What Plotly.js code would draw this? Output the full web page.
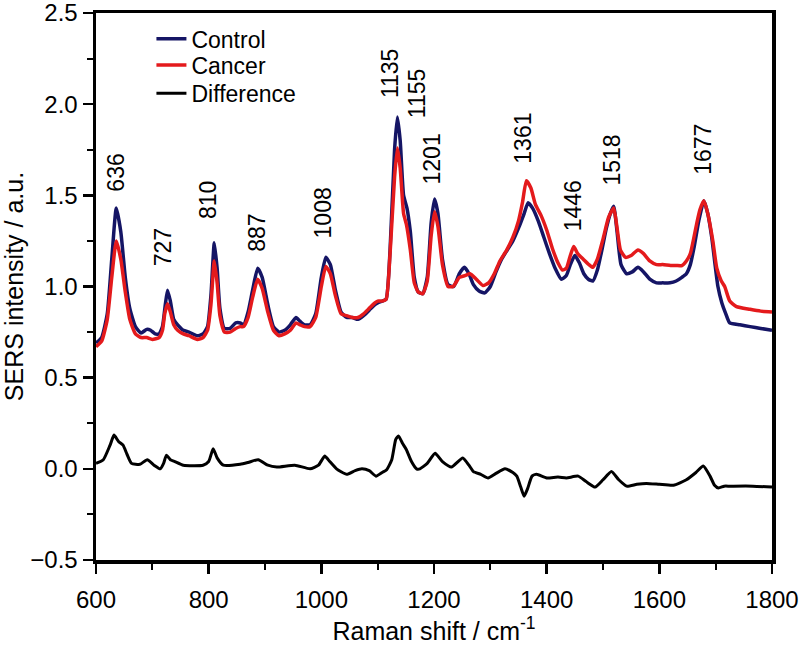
<!DOCTYPE html>
<html>
<head>
<meta charset="utf-8">
<script src="https://cdn.plot.ly/plotly-3.0.1.min.js"></script>
<style>html,body{margin:0;padding:0;background:#fff;}#chart{width:801px;height:648px;}</style>
</head>
<body>
<div id="chart"></div>
<script>
// Control spectrum
const controlX = [600,610,620,628,636,644,652,660,670,680,690,697,705,712,718,723,727,732,738,745,755,765,780,790,798,804,810,815,820,828,838,848,856,862,870,878,887,895,905,915,925,935,945,955,962,970,980,990,1000,1008,1016,1025,1035,1045,1055,1065,1075,1085,1095,1100,1108,1115,1122,1130,1135,1140,1146,1152,1158,1165,1172,1180,1188,1195,1201,1207,1215,1225,1235,1245,1254,1262,1270,1280,1290,1300,1310,1320,1330,1340,1350,1360,1367,1375,1385,1395,1405,1415,1426,1435,1442,1450,1458,1466,1474,1482,1490,1498,1506,1513,1519,1525,1532,1542,1552,1562,1572,1583,1595,1606,1619,1630,1640,1648,1655,1662,1670,1679,1686,1693,1704,1711,1718,1725,1743,1761,1780,1800];
const controlY = [0.69,0.72,0.85,1.15,1.43,1.30,1.05,0.88,0.78,0.745,0.765,0.76,0.74,0.74,0.78,0.90,0.98,0.92,0.82,0.79,0.76,0.75,0.73,0.74,0.78,0.95,1.24,1.10,0.88,0.77,0.77,0.80,0.80,0.79,0.86,0.98,1.10,1.05,0.90,0.78,0.75,0.76,0.79,0.83,0.81,0.79,0.79,0.85,1.05,1.16,1.12,0.98,0.86,0.83,0.83,0.82,0.84,0.87,0.90,0.91,0.92,0.93,1.20,1.75,1.93,1.80,1.50,1.43,1.30,1.05,0.97,0.96,1.05,1.35,1.48,1.40,1.15,1.01,1.00,1.07,1.105,1.07,1.01,0.975,0.965,1.00,1.08,1.15,1.20,1.25,1.32,1.40,1.46,1.43,1.36,1.27,1.18,1.10,1.04,1.06,1.12,1.17,1.13,1.07,1.04,1.03,1.09,1.20,1.32,1.40,1.44,1.30,1.12,1.07,1.08,1.105,1.08,1.04,1.02,1.02,1.02,1.03,1.05,1.07,1.12,1.22,1.36,1.47,1.40,1.27,1.00,0.91,0.85,0.80,0.79,0.78,0.77,0.76];

// Cancer spectrum
const cancerX = [600,610,620,628,636,644,652,660,670,680,690,700,712,718,722,727,732,738,745,755,765,780,790,798,804,810,815,820,828,838,848,856,862,870,878,887,895,905,915,925,935,945,955,962,970,980,990,1000,1008,1016,1025,1035,1045,1055,1065,1075,1085,1095,1100,1108,1115,1122,1130,1135,1140,1146,1151,1158,1165,1172,1180,1188,1195,1201,1207,1215,1225,1234,1245,1255,1264,1275,1287,1297,1307,1317,1329,1340,1350,1357,1364,1372,1380,1390,1400,1410,1420,1428,1435,1442,1448,1455,1465,1475,1482,1490,1500,1510,1519,1525,1531,1540,1550,1562,1572,1583,1595,1606,1620,1630,1640,1648,1655,1666,1672,1679,1686,1695,1702,1710,1716,1725,1737,1761,1780,1800];
const cancerY = [0.67,0.70,0.82,1.05,1.25,1.15,0.97,0.82,0.74,0.72,0.72,0.71,0.72,0.76,0.85,0.905,0.86,0.79,0.76,0.74,0.73,0.71,0.72,0.76,0.90,1.14,1.02,0.84,0.75,0.75,0.77,0.78,0.78,0.83,0.94,1.04,0.99,0.86,0.76,0.73,0.74,0.76,0.80,0.79,0.78,0.78,0.83,1.00,1.11,1.07,0.95,0.85,0.84,0.83,0.83,0.85,0.88,0.91,0.92,0.92,0.93,1.18,1.60,1.76,1.65,1.40,1.34,1.20,1.02,0.97,0.96,1.03,1.28,1.41,1.33,1.12,1.00,1.00,1.05,1.06,1.07,1.04,1.005,1.02,1.07,1.14,1.20,1.27,1.36,1.46,1.58,1.54,1.45,1.39,1.31,1.21,1.13,1.09,1.10,1.17,1.22,1.18,1.15,1.12,1.105,1.15,1.26,1.38,1.43,1.32,1.20,1.16,1.17,1.20,1.18,1.14,1.12,1.12,1.115,1.115,1.115,1.14,1.18,1.34,1.42,1.47,1.40,1.25,1.10,1.03,1.00,0.92,0.89,0.875,0.865,0.86];

// Difference spectrum
const diffX = [600,613,625,632,640,648,655,663,678,691,703,714,720,725,732,740,755,790,800,808,815,826,856,870,888,905,921,953,980,995,1006,1015,1027,1045,1060,1072,1085,1097,1108,1116,1125,1132,1137,1144,1151,1160,1169,1175,1188,1202,1215,1231,1251,1262,1270,1283,1296,1310,1326,1340,1347,1354,1360,1366,1374,1382,1400,1420,1435,1456,1470,1486,1500,1515,1528,1542,1560,1577,1600,1625,1648,1665,1678,1690,1698,1705,1715,1725,1766,1800];
const diffY = [0.03,0.05,0.13,0.185,0.15,0.13,0.08,0.03,0.025,0.05,0.02,0.0,0.03,0.075,0.05,0.04,0.02,0.02,0.04,0.11,0.06,0.02,0.025,0.035,0.05,0.02,0.01,0.02,0.0,0.02,0.07,0.04,0.0,-0.03,-0.01,0.0,-0.01,-0.04,-0.02,-0.005,0.05,0.16,0.18,0.14,0.105,0.04,0.0,0.0,0.03,0.085,0.04,0.01,0.06,0.02,-0.015,-0.03,-0.05,-0.025,0.0,-0.02,-0.04,-0.10,-0.15,-0.11,-0.04,-0.03,-0.05,-0.045,-0.05,-0.04,-0.07,-0.10,-0.06,-0.015,-0.06,-0.095,-0.085,-0.08,-0.085,-0.09,-0.06,-0.02,0.015,-0.04,-0.09,-0.105,-0.095,-0.095,-0.095,-0.10];

// Peak labels and where their text sits
const peakLabels = ['636','727','810','887','1008','1135','1155','1201','1361','1446','1518','1677'];
const peakLabelX = [634,719,799,886,1003,1122,1170,1196,1358,1447,1516,1676];
const peakLabelY = [1.51,1.10,1.36,1.18,1.25,2.02,1.91,1.55,1.66,1.29,1.54,1.60];

const xTickVals = [600,800,1000,1200,1400,1600,1800];
const yTickVals = [-0.5,0.0,0.5,1.0,1.5,2.0,2.5];

const FONT = 'Liberation Sans, Arial, sans-serif';

const traces = [
  {x: controlX, y: controlY, name: 'Control', type: 'scatter', mode: 'lines', legend: 'legend',
   line: {color: '#151565', width: 3.5, shape: 'spline', smoothing: 0.5}},
  {x: cancerX, y: cancerY, name: 'Cancer', type: 'scatter', mode: 'lines', legend: 'legend2',
   line: {color: '#e41a1c', width: 3.5, shape: 'spline', smoothing: 0.5}},
  {x: diffX, y: diffY, name: 'Difference', type: 'scatter', mode: 'lines', legend: 'legend3',
   line: {color: '#000000', width: 3, shape: 'spline', smoothing: 0.5}}
];

const annotations = peakLabels.map((t, i) => ({
  x: peakLabelX[i], y: peakLabelY[i], xref: 'x', yref: 'y',
  text: t, showarrow: false, textangle: -90,
  xanchor: 'center', yanchor: 'bottom',
  font: {family: FONT, size: 23, color: '#000'}
}));

const legendBase = {x: 0.082, xanchor: 'left', yanchor: 'middle', bgcolor: 'rgba(0,0,0,0)',
  font: {family: FONT, size: 23, color: '#000'}};

const layout = {
  width: 801, height: 648,
  margin: {l: 96, r: 29, t: 13, b: 88},
  paper_bgcolor: '#fff', plot_bgcolor: '#fff',
  showlegend: true,
  legend: Object.assign({}, legendBase, {y: 0.953}),
  legend2: Object.assign({}, legendBase, {y: 0.905}),
  legend3: Object.assign({}, legendBase, {y: 0.853}),
  xaxis: {
    range: [600, 1800], tickvals: xTickVals, ticks: 'outside', ticklen: 10, tickwidth: 2.5,
    tickcolor: '#000', showline: true, linewidth: 3.5, linecolor: '#000', mirror: true,
    showgrid: false, zeroline: false, ticklabeloverflow: 'allow', ticklabelstandoff: 6,
    minor: {dtick: 100, tick0: 600, ticks: 'outside', ticklen: 6, tickwidth: 2, tickcolor: '#000', showgrid: false},
    tickfont: {family: FONT, size: 24, color: '#000'},
    title: {text: 'Raman shift / cm<sup>-1</sup>', font: {family: FONT, size: 25, color: '#000'}, standoff: 10}
  },
  yaxis: {
    range: [-0.5, 2.5], tickvals: yTickVals, tickformat: '.1f', ticks: 'outside', ticklen: 10, tickwidth: 2.5,
    tickcolor: '#000', showline: true, linewidth: 3.5, linecolor: '#000', mirror: true,
    showgrid: false, zeroline: false, ticklabeloverflow: 'allow',
    minor: {dtick: 0.25, tick0: 0, ticks: 'outside', ticklen: 6, tickwidth: 2, tickcolor: '#000', showgrid: false},
    tickfont: {family: FONT, size: 24, color: '#000'},
    title: {text: 'SERS intensity / a.u.', font: {family: FONT, size: 25, color: '#000'}, standoff: 2}
  },
  annotations: annotations
};

Plotly.newPlot('chart', traces, layout, {staticPlot: true, displayModeBar: false});
</script>
</body>
</html>
